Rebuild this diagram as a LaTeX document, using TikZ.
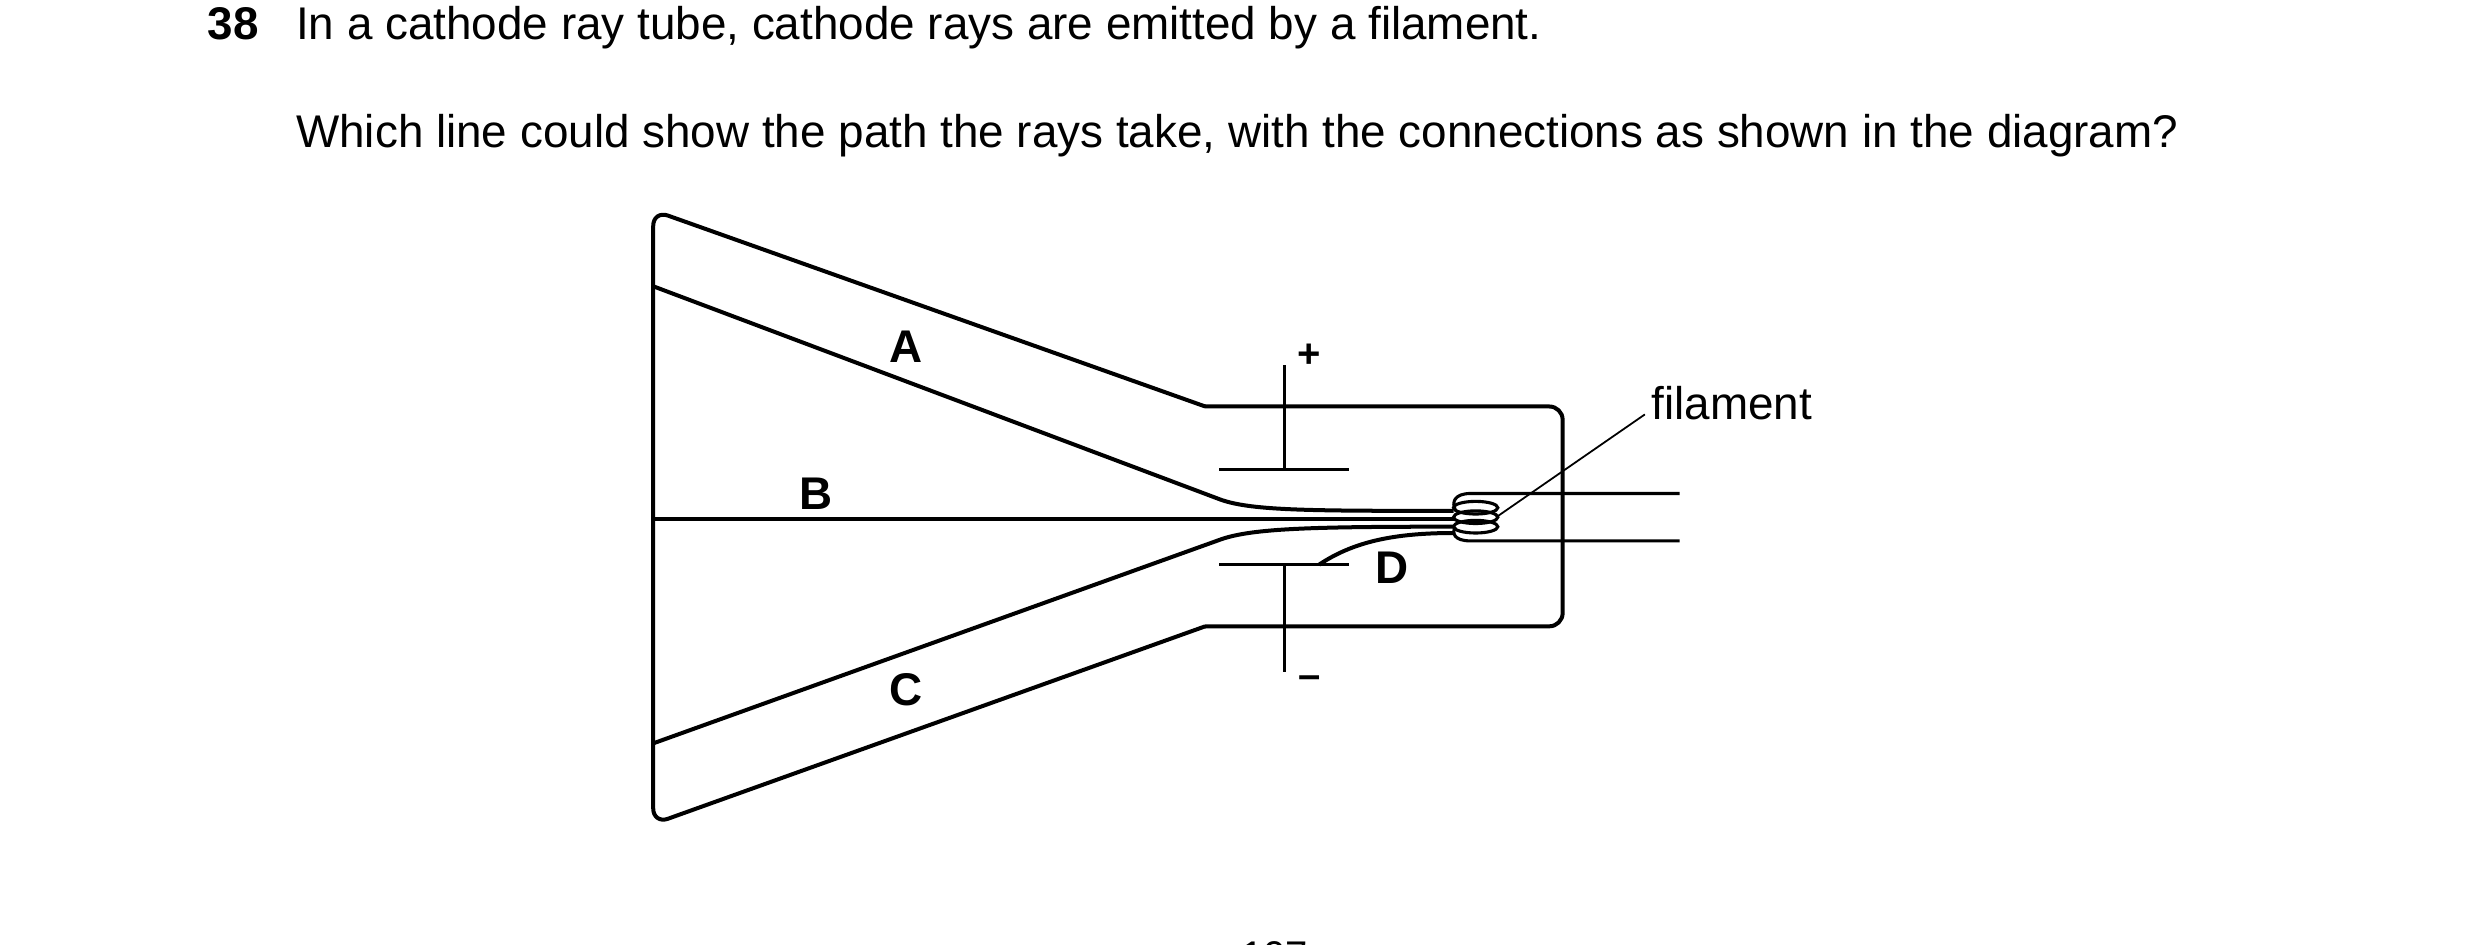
\documentclass[tikz,border=0pt]{standalone}
\usepackage{fontspec}
\setmainfont{Liberation Sans}
\begin{document}
\begin{tikzpicture}[x=0.025cm,y=-0.025cm,
  tube/.style={line width=1.8pt,line join=round},
  ray/.style={line width=1.8pt},
  lead/.style={line width=1.4pt},
  txt/.style={inner sep=0pt,anchor=base west,font=\fontsize{20.6}{24}\selectfont},
  lab/.style={inner sep=0pt,anchor=base,font=\fontsize{20.6}{24}\selectfont\bfseries}]
\useasboundingbox (0,0) rectangle (1568,597);
\clip (0,0) rectangle (1568,597);
% text
\node[txt,font=\fontsize{20.6}{24}\selectfont\bfseries] (num) at (131,25) {38};
\node[txt] (q1) at (187,25) {In a cathode ray tube, cathode rays are emitted by a filament.};
\node[txt] (q2) at (187,93) {Which line could show the path the rays take, with the connections as shown in the diagram?};
\node[inner sep=0pt,anchor=base,font=\fontsize{18}{22}\selectfont] (page) at (806,613) {107};
% tube
\coordinate (tl) at (413,133);
\coordinate (bl) at (413,521);
\coordinate (nt) at (762,257);
\coordinate (nb) at (762,396);
\coordinate (rt) at (988,257);
\coordinate (rb) at (988,396);
\draw[tube,rounded corners=7] (nt) -- (tl) -- (bl) -- (nb);
\draw[tube,rounded corners=6] (nt) -- (rt) -- (rb) -- (nb);
% plates
\coordinate (pt1) at (812,231); \coordinate (pt2) at (812,297);
\coordinate (ph1) at (771,297); \coordinate (ph2) at (853,297);
\coordinate (pb1) at (812,357); \coordinate (pb2) at (812,425);
\coordinate (pk1) at (771,357); \coordinate (pk2) at (853,357);
\draw[lead] (pt1) -- (pt2) (ph1) -- (ph2) (pb1) -- (pb2) (pk1) -- (pk2);
\node[inner sep=0pt,font=\fontsize{18}{20}\selectfont\bfseries] (plus) at (828,225) {+};
\node[inner sep=0pt,font=\fontsize{18}{20}\selectfont\bfseries] (minus) at (828,431) {\textendash};
% rays
\coordinate (a0) at (413,181); \coordinate (a1) at (772,316); \coordinate (a2) at (919,323);
\coordinate (b0) at (413,328); \coordinate (b2) at (919,328);
\coordinate (c0) at (413,470); \coordinate (c1) at (772,341); \coordinate (c2) at (919,333);
\coordinate (d0) at (834,357); \coordinate (d2) at (919,337);
\draw[ray] (a0) -- (a1) .. controls (792,323) and (830,323) .. (a2);
\draw[ray] (b0) -- (b2);
\draw[ray] (c0) -- (c1) .. controls (792,334) and (830,333) .. (c2);
\draw[ray] (d0) .. controls (855,343) and (880,337) .. (d2);
% filament
\foreach \yy in {321,327,333}{\draw[lead] (933,\yy) ellipse (14 and 4);}
\coordinate (lt) at (1062,312); \coordinate (lb) at (1062,342);
\draw[lead] (lt) -- (930,312) .. controls (919,312) and (918,318) .. (920,322);
\draw[lead] (lb) -- (930,342) .. controls (919,342) and (918,337) .. (920,333);
% labels
\node[lab] (A) at (573,229) {A};
\node[lab] (B) at (516,322) {B};
\node[lab] (C) at (573,446) {C};
\node[lab] (D) at (880,369) {D};
\node[txt] (fil) at (1044,265) {filament};
\coordinate (fp) at (1040,262);
\coordinate (fc) at (946,327);
\draw[line width=0.8pt] (fp) -- (fc);
\end{tikzpicture}
\end{document}
